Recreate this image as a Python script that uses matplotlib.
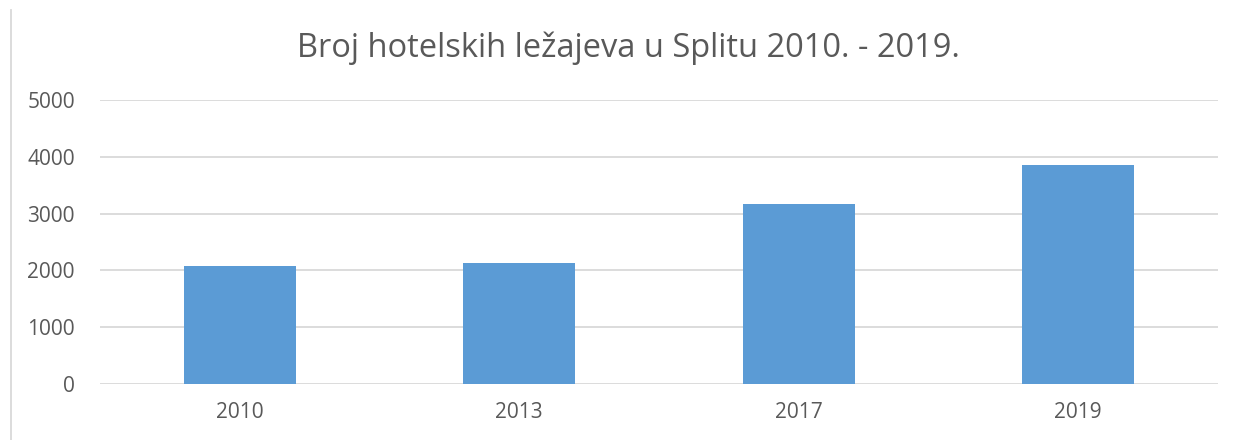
import matplotlib.pyplot as plt
from matplotlib.lines import Line2D

years = ['2010', '2013', '2017', '2019']
beds = [2070, 2125, 3165, 3850]
yticks = [0, 1000, 2000, 3000, 4000, 5000]

text_color = '#595959'
grid_color = '#d9d9d9'
bar_color = '#5b9bd5'

plt.rcParams['font.family'] = ['Open Sans', 'DejaVu Sans']

fig = plt.figure(figsize=(12.35, 4.4), dpi=100)
ax = fig.add_axes([100 / 1235, 1 - 384 / 440, 1118 / 1235, 284 / 440])

x = range(len(years))
ax.bar(x, beds, width=0.4, color=bar_color, zorder=3)

ax.set_xlim(-0.5, len(years) - 0.5)
ax.set_ylim(0, 5000)
ax.set_yticks(yticks)
ax.set_xticks(list(x))
ax.set_xticklabels(years)
ax.yaxis.grid(True, color=grid_color, linewidth=1.3, zorder=0)
ax.tick_params(axis='both', length=0, labelsize=15, colors=text_color)
ax.tick_params(axis='y', pad=18)
ax.tick_params(axis='x', pad=13)
for s in ax.spines.values():
    s.set_visible(False)

fig.text(628 / 1235, 1 - 48 / 440, 'Broj hotelskih ležajeva u Splitu 2010. - 2019.',
         ha='center', va='center', fontsize=23.5, color=text_color)

# left border line of the chart frame
fig.add_artist(Line2D([11 / 1235, 11 / 1235], [0, 1 - 10 / 440],
                      transform=fig.transFigure, color=grid_color, linewidth=1.3))

fig.savefig('out.png', dpi=100)
